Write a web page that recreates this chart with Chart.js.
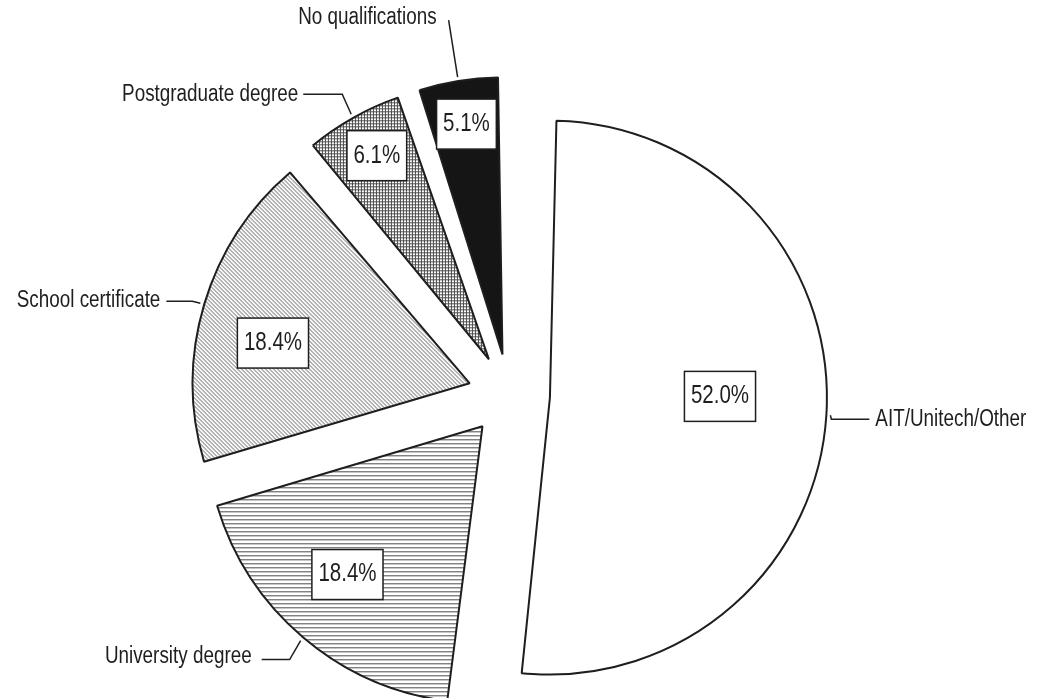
<!DOCTYPE html>
<html>
<head>
<meta charset="utf-8">
<title>Highest qualification</title>
<script src="https://cdn.jsdelivr.net/npm/chart.js@4/dist/chart.umd.min.js"></script>
<style>
  html, body { margin: 0; padding: 0; background: #fff; }
  #wrap { width: 1043px; height: 698px; }
</style>
</head>
<body>
<div id="wrap"><canvas id="pie" width="1043" height="698"></canvas></div>
<script>
// Highest qualification held (% of respondents)
const categories = ['AIT/Unitech/Other', 'University degree', 'School certificate', 'Postgraduate degree', 'No qualifications'];
const shares = [52.0, 18.4, 18.4, 6.1, 5.1];

const RADIUS = 277;   // slice radius in px
const EXPLODE = 41;   // how far every slice is pulled out from the centre
const NARROW = 0.82;  // horizontal squeeze for the condensed lettering
const INK = '#1e1e1e';

// fill patterns for the slices
function makePattern(size, paint) {
    const c = document.createElement('canvas');
    c.width = size;
    c.height = size;
    const g = c.getContext('2d');
    g.fillStyle = '#fff';
    g.fillRect(0, 0, size, size);
    paint(g);
    return g.createPattern(c, 'repeat');
}

const hLines = makePattern(4, g => {
    g.fillStyle = '#4a4a4a';
    g.fillRect(0, 0, 4, 1);
});
const diagLines = makePattern(4, g => {
    g.fillStyle = '#5a5a5a';
    for (let k = 0; k < 4; k++) g.fillRect(k, k, 1, 1);
});
const mesh = makePattern(3, g => {
    g.fillStyle = '#4d4d4d';
    g.fillRect(0, 0, 3, 3);
    g.fillStyle = '#fff';
    g.fillRect(1, 1, 2, 2);
});

const fills = ['#ffffff', hLines, diagLines, mesh, '#151515'];

function narrowText(ctx, text, x, y, align, size) {
    ctx.save();
    ctx.font = size + 'px "Liberation Sans", Arial, sans-serif';
    ctx.textAlign = align;
    ctx.textBaseline = 'middle';
    ctx.fillStyle = INK;
    ctx.scale(NARROW, 1);
    ctx.fillText(text, x / NARROW, y);
    ctx.restore();
}

function narrowWidth(ctx, text, size) {
    ctx.save();
    ctx.font = size + 'px "Liberation Sans", Arial, sans-serif';
    const w = ctx.measureText(text).width * NARROW;
    ctx.restore();
    return w;
}

// leader line for each outside label: elbow relative to the arc anchor,
// then a horizontal run (negative = leftwards) and the gap before the text
const leaders = [
    { elbow: [1, 4], run: 38, gap: 6, dy: 0 },
    { elbow: [-11, 19], run: -28, gap: 10, dy: -3 },
    { elbow: [-8, -2], run: -26, gap: 6, dy: -1 },
    { elbow: [-9, -20], run: -39, gap: 5, dy: 0 },
    { elbow: [-9, -57], run: 0, gap: 12, dy: -2 }
];
// where the value box sits: share of the radius out from the slice tip,
// and a small turn (degrees) away from the slice middle
const boxDepth = [0.614, 0.724, 0.725, 0.839, 0.842];
const boxTurn = [-4, 2, -5, 0.5, 0.3];

const sliceNotes = {
    id: 'sliceNotes',
    afterDatasetUpdate(chart, args) {
        // keep every exploded slice at the same drawn radius
        args.meta.data.forEach(arc => {
            const fix = 1 - Math.sin(Math.min(Math.PI, arc.circumference));
            arc.outerRadius = RADIUS - EXPLODE * fix;
        });
    },
    afterDraw(chart) {
        const ctx = chart.ctx;
        const arcs = chart.getDatasetMeta(0).data;
        arcs.forEach((arc, i) => {
            const mid = (arc.startAngle + arc.endAngle) / 2;
            const dx = Math.cos(mid), dy = Math.sin(mid);
            const cx = arc.x + dx * EXPLODE;
            const cy = arc.y + dy * EXPLODE;

            // value box
            const label = shares[i].toFixed(1) + '%';
            const ba = mid + boxTurn[i] * Math.PI / 180;
            const bx = cx + Math.cos(ba) * RADIUS * boxDepth[i];
            const by = cy + Math.sin(ba) * RADIUS * boxDepth[i];
            const bw = narrowWidth(ctx, label, 25) + 13;
            const bh = 50;
            ctx.save();
            ctx.fillStyle = '#fff';
            ctx.strokeStyle = INK;
            ctx.lineWidth = 1.5;
            ctx.fillRect(bx - bw / 2, by - bh / 2, bw, bh);
            ctx.strokeRect(bx - bw / 2, by - bh / 2, bw, bh);
            ctx.restore();
            narrowText(ctx, label, bx, by, 'center', 25);

            // leader line and category name
            const L = leaders[i];
            const ax = cx + dx * (RADIUS + 4);
            const ay = cy + dy * (RADIUS + 4);
            const ex = ax + L.elbow[0];
            const ey = ay + L.elbow[1];
            const hx = ex + L.run;
            ctx.save();
            ctx.strokeStyle = INK;
            ctx.lineWidth = 1.5;
            ctx.beginPath();
            ctx.moveTo(ax, ay);
            ctx.lineTo(ex, ey);
            ctx.lineTo(hx, ey);
            ctx.stroke();
            ctx.restore();
            const right = L.run > 0;
            const tx = right ? hx + L.gap : hx - L.gap;
            narrowText(ctx, categories[i], tx, ey + L.dy, right ? 'left' : 'right', 23);
        });
    }
};

new Chart(document.getElementById('pie'), {
    type: 'pie',
    data: {
        labels: categories,
        datasets: [{
            data: shares,
            backgroundColor: fills,
            borderColor: INK,
            borderWidth: 2,
            offset: EXPLODE * 4,
            hoverOffset: 0,
            clip: false
        }]
    },
    options: {
        responsive: false,
        devicePixelRatio: 1,
        animation: false,
        events: [],
        rotation: 0,
        radius: RADIUS,
        layout: { padding: { left: 0, right: 25, top: 92, bottom: 0 } },
        plugins: {
            legend: { display: false },
            tooltip: { enabled: false },
            title: { display: false }
        }
    },
    plugins: [sliceNotes]
});
</script>
</body>
</html>
